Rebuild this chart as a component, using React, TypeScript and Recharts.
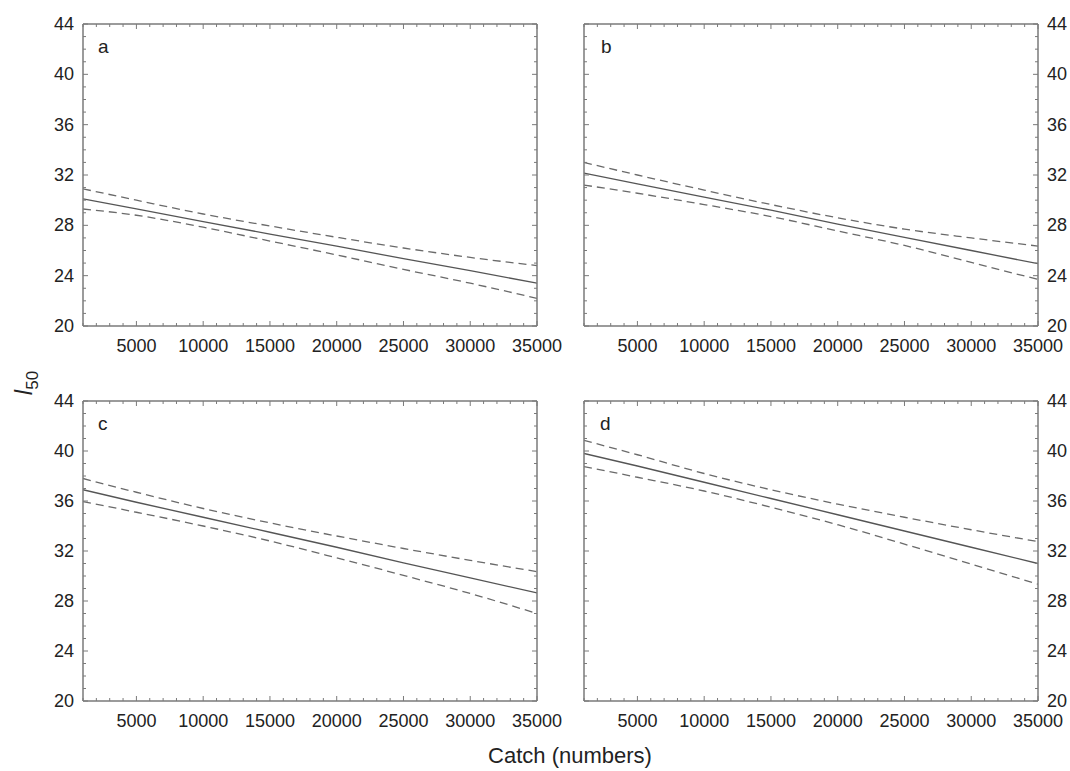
import { LineChart, Line, XAxis, YAxis } from 'recharts';

const catchX = [1000, 5000, 10000, 15000, 20000, 25000, 30000, 35000];

// panel a
const fitA = [30.1, 29.3, 28.3, 27.3, 26.35, 25.35, 24.4, 23.4];
const upA = [30.9, 30.0, 28.9, 27.95, 27.05, 26.2, 25.45, 24.8];
const loA = [29.3, 28.8, 27.85, 26.75, 25.65, 24.5, 23.4, 22.2];

// panel b
const fitB = [32.15, 31.3, 30.25, 29.2, 28.1, 27.05, 26.0, 24.95];
const upB = [33.0, 32.0, 30.8, 29.65, 28.6, 27.7, 27.0, 26.35];
const loB = [31.2, 30.55, 29.65, 28.7, 27.55, 26.4, 25.05, 23.7];

// panel c
const fitC = [36.9, 35.9, 34.7, 33.5, 32.3, 31.05, 29.85, 28.65];
const upC = [37.8, 36.7, 35.4, 34.25, 33.2, 32.2, 31.25, 30.35];
const loC = [35.95, 35.1, 34.0, 32.8, 31.45, 30.05, 28.6, 27.0];

// panel d
const fitD = [39.8, 38.8, 37.5, 36.2, 34.9, 33.6, 32.3, 31.0];
const upD = [40.85, 39.7, 38.2, 36.9, 35.75, 34.7, 33.7, 32.75];
const loD = [38.75, 37.9, 36.8, 35.5, 34.1, 32.55, 30.95, 29.35];

// ticks
const xTicks = [
  1000, 2000, 3000, 4000, 5000, 6000, 7000, 8000, 9000, 10000, 11000, 12000,
  13000, 14000, 15000, 16000, 17000, 18000, 19000, 20000, 21000, 22000, 23000,
  24000, 25000, 26000, 27000, 28000, 29000, 30000, 31000, 32000, 33000, 34000,
  35000,
];
const xLabels = [5000, 10000, 15000, 20000, 25000, 30000, 35000];
const yTicks = [
  20, 21, 22, 23, 24, 25, 26, 27, 28, 29, 30, 31, 32, 33, 34, 35, 36, 37, 38,
  39, 40, 41, 42, 43, 44,
];
const yLabels = [20, 24, 28, 32, 36, 40, 44];

const FONT = '"Liberation Sans", Arial, sans-serif';
const FRAME = '#7a7a7a';
const INK = '#222';

function rows(fit: number[], up: number[], lo: number[]) {
  return catchX.map((c, i) => ({ c, fit: fit[i], up: up[i], lo: lo[i] }));
}

// tick drawers: x,y arrive on the axis line because tickSize/tickMargin are 0
function BottomTick(props: any) {
  const { x, y, payload } = props;
  const major = xLabels.includes(payload.value);
  return (
    <g>
      <line x1={x} y1={y} x2={x} y2={y - (major ? 5 : 3)} stroke={FRAME} strokeWidth={1} />
      {major && (
        <text x={x} y={y + 26} textAnchor="middle" fontSize={18} fontFamily={FONT} fill={INK}>
          {payload.value}
        </text>
      )}
    </g>
  );
}

function TopTick(props: any) {
  const { x, y, payload } = props;
  const major = xLabels.includes(payload.value);
  return <line x1={x} y1={y} x2={x} y2={y + (major ? 5 : 3)} stroke={FRAME} strokeWidth={1} />;
}

function makeSideTick(side: 'left' | 'right', showLabels: boolean) {
  return function SideTick(props: any) {
    const { x, y, payload } = props;
    const major = yLabels.includes(payload.value);
    const len = major ? 5 : 3;
    const dir = side === 'left' ? 1 : -1;
    return (
      <g>
        <line x1={x} y1={y} x2={x + dir * len} y2={y} stroke={FRAME} strokeWidth={1} />
        {major && showLabels && (
          <text
            x={side === 'left' ? x - 9 : x + 9}
            y={y + 6}
            textAnchor={side === 'left' ? 'end' : 'start'}
            fontSize={18}
            fontFamily={FONT}
            fill={INK}
          >
            {payload.value}
          </text>
        )}
      </g>
    );
  };
}

interface PanelProps {
  data: { c: number; fit: number; up: number; lo: number }[];
  left: number;
  top: number;
  width: number;
  height: number;
  leftW: number;
  rightW: number;
  labelsRight: boolean;
}

function Panel({ data, left, top, width, height, leftW, rightW, labelsRight }: PanelProps) {
  return (
    <div style={{ position: 'absolute', left, top }}>
      <LineChart width={width} height={height} data={data} margin={{ top: 0, right: 0, left: 0, bottom: 0 }}>
        <XAxis
          xAxisId="b"
          dataKey="c"
          type="number"
          domain={[1000, 35000]}
          allowDataOverflow
          ticks={xTicks}
          interval={0}
          height={54}
          tickSize={0}
          tickMargin={0}
          tickLine={false}
          axisLine={{ stroke: FRAME, strokeWidth: 1.5 }}
          tick={<BottomTick />}
        />
        <XAxis
          xAxisId="t"
          orientation="top"
          dataKey="c"
          type="number"
          domain={[1000, 35000]}
          allowDataOverflow
          ticks={xTicks}
          interval={0}
          height={24}
          tickSize={0}
          tickMargin={0}
          tickLine={false}
          axisLine={{ stroke: FRAME, strokeWidth: 1.5 }}
          tick={<TopTick />}
        />
        <YAxis
          yAxisId="l"
          type="number"
          domain={[20, 44]}
          allowDataOverflow
          ticks={yTicks}
          interval={0}
          width={leftW}
          tickSize={0}
          tickMargin={0}
          tickLine={false}
          axisLine={{ stroke: FRAME, strokeWidth: 1.5 }}
          tick={makeSideTick('left', !labelsRight)}
        />
        <YAxis
          yAxisId="r"
          orientation="right"
          type="number"
          domain={[20, 44]}
          allowDataOverflow
          ticks={yTicks}
          interval={0}
          width={rightW}
          tickSize={0}
          tickMargin={0}
          tickLine={false}
          axisLine={{ stroke: FRAME, strokeWidth: 1.5 }}
          tick={makeSideTick('right', labelsRight)}
        />
        <Line
          xAxisId="b"
          yAxisId="l"
          type="monotone"
          dataKey="up"
          stroke="#6a6a6a"
          strokeWidth={1.3}
          strokeDasharray="8 5"
          dot={false}
          isAnimationActive={false}
        />
        <Line
          xAxisId="b"
          yAxisId="l"
          type="linear"
          dataKey="fit"
          stroke="#555"
          strokeWidth={1.3}
          dot={false}
          isAnimationActive={false}
        />
        <Line
          xAxisId="b"
          yAxisId="l"
          type="monotone"
          dataKey="lo"
          stroke="#6a6a6a"
          strokeWidth={1.3}
          strokeDasharray="8 5"
          dot={false}
          isAnimationActive={false}
        />
      </LineChart>
    </div>
  );
}

export default function App() {
  return (
    <div
      style={{
        position: 'fixed',
        left: 0,
        top: 0,
        width: 1070,
        height: 771,
        background: '#fff',
        overflow: 'hidden',
      }}
    >
      <Panel data={rows(fitA, upA, loA)} left={0} top={0} width={580} height={380} leftW={83} rightW={43} labelsRight={false} />
      <Panel data={rows(fitB, upB, loB)} left={540} top={0} width={530} height={380} leftW={44} rightW={32} labelsRight />
      <Panel data={rows(fitC, upC, loC)} left={0} top={377} width={580} height={378} leftW={83} rightW={43} labelsRight={false} />
      <Panel data={rows(fitD, upD, loD)} left={540} top={377} width={530} height={378} leftW={44} rightW={32} labelsRight />

      <svg
        width={1070}
        height={771}
        style={{ position: 'absolute', left: 0, top: 0, pointerEvents: 'none' }}
      >
        <g fontFamily={FONT} fill={INK}>
          <text x={98} y={53} fontSize={19}>a</text>
          <text x={601} y={53} fontSize={19}>b</text>
          <text x={98} y={430} fontSize={19}>c</text>
          <text x={600} y={430} fontSize={19}>d</text>
          <text x={570} y={763} fontSize={22} textAnchor="middle">Catch (numbers)</text>
          <text transform="translate(32,383) rotate(-90)" textAnchor="middle">
            <tspan fontSize={24} fontStyle="italic">l</tspan>
            <tspan fontSize={17} dy={6}>50</tspan>
          </text>
        </g>
      </svg>
    </div>
  );
}
